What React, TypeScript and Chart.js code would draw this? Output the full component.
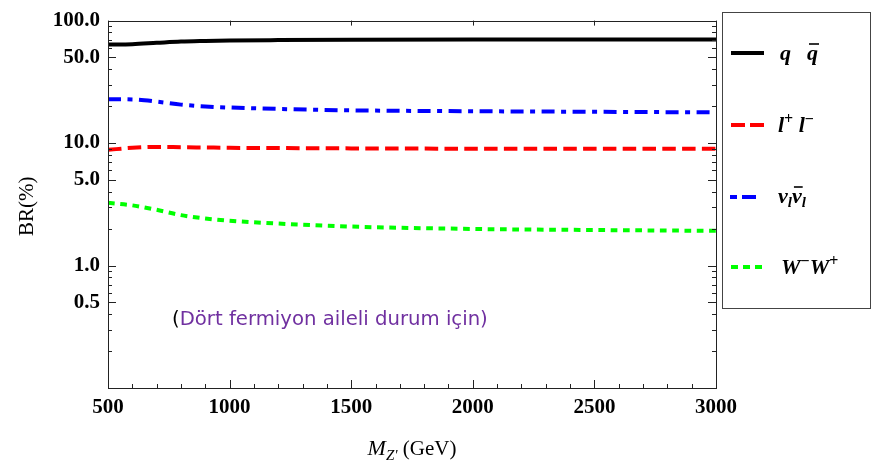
import React, { useEffect, useRef } from "react";
import { Chart, registerables } from "chart.js";

Chart.register(...registerables);

// ---- data ----
const masses = [500, 600, 700, 800, 900, 1000, 1200, 1500, 2000, 2500, 3000];
const quarkPair = [63.8, 64.2, 65.8, 67.4, 68.2, 68.8, 69.3, 69.7, 70.0, 70.1, 70.2];
const leptonPair = [8.8, 9.15, 9.3, 9.25, 9.2, 9.15, 9.1, 9.05, 9.0, 9.0, 9.0];
const neutrinoPair = [22.8, 22.7, 21.8, 20.6, 19.9, 19.5, 19.0, 18.5, 18.2, 18.0, 17.8];
const wPair = [3.25, 3.1, 2.85, 2.58, 2.42, 2.32, 2.2, 2.08, 1.99, 1.95, 1.92];

const xTickValues = [500, 1000, 1500, 2000, 2500, 3000];
const xMinorStep = 100;
const yTickValues = [0.5, 1, 5, 10, 50, 100];
const yMinorMultipliers = [2, 3, 4, 6, 7, 8, 9];
const annotation = "(Dört fermiyon aileli durum için)";
const yTitle = "BR(%)";

const SERIF = "'Liberation Serif', 'Times New Roman', serif";

type Seg = { t: string; font: string; dy?: number; bar?: boolean };

function drawSegs(ctx: CanvasRenderingContext2D, segs: Seg[], x: number, y: number) {
  let cx = x;
  for (const s of segs) {
    ctx.font = s.font;
    const w = ctx.measureText(s.t).width;
    ctx.fillText(s.t, cx, y + (s.dy || 0));
    if (s.bar) {
      ctx.save();
      ctx.lineWidth = 1.6;
      ctx.beginPath();
      ctx.moveTo(cx + 2, y - 16);
      ctx.lineTo(cx + w + 1, y - 16);
      ctx.stroke();
      ctx.restore();
    }
    cx += w;
  }
  return cx - x;
}

const decor = {
  id: "decor",
  afterDraw(chart: any) {
    const { ctx, chartArea: a, scales } = chart;
    const xs = scales.x;
    const ys = scales.y;
    ctx.save();
    ctx.strokeStyle = "#222";
    ctx.fillStyle = "#000";
    ctx.lineWidth = 1;
    ctx.setLineDash([]);
    // frame
    ctx.strokeRect(Math.round(a.left) + 0.5, Math.round(a.top) + 0.5, Math.round(a.right - a.left), Math.round(a.bottom - a.top));

    ctx.beginPath();
    // x ticks
    for (let v = xs.min; v <= xs.max; v += xMinorStep) {
      const px = Math.round(xs.getPixelForValue(v)) + 0.5;
      const major = xTickValues.includes(v);
      const len = major ? 8 : 4;
      ctx.moveTo(px, a.bottom);
      ctx.lineTo(px, a.bottom - len);
      if (major) {
        ctx.moveTo(px, a.top);
        ctx.lineTo(px, a.top + 5);
      }
    }
    // y ticks
    const yVals: { v: number; major: boolean }[] = [];
    for (let d = 0.1; d < 100.0001; d *= 10) {
      const dec = Math.round(d * 10) / 10;
      yVals.push({ v: dec, major: true });
      yVals.push({ v: dec * 5, major: true });
      for (const m of yMinorMultipliers) yVals.push({ v: dec * m, major: false });
    }
    for (const t of yVals) {
      if (t.v < ys.min - 1e-9 || t.v > ys.max + 1e-9) continue;
      const py = Math.round(ys.getPixelForValue(t.v)) + 0.5;
      const len = t.major ? 8 : 4;
      ctx.moveTo(a.left, py);
      ctx.lineTo(a.left + len, py);
      ctx.moveTo(a.right, py);
      ctx.lineTo(a.right - len, py);
    }
    ctx.stroke();

    // y title
    ctx.save();
    ctx.translate(27, (a.top + a.bottom) / 2 + 2);
    ctx.rotate(-Math.PI / 2);
    ctx.font = `21px ${SERIF}`;
    ctx.textAlign = "center";
    ctx.textBaseline = "middle";
    ctx.fillText(yTitle, 0, 0);
    ctx.restore();

    // x title
    ctx.textBaseline = "alphabetic";
    ctx.textAlign = "left";
    const xtSegs: Seg[] = [
      { t: "M", font: `italic 22px ${SERIF}` },
      { t: "Z'", font: `italic 15px ${SERIF}`, dy: 5 },
      { t: " (GeV)", font: `21px ${SERIF}` },
    ];
    let tw = 0;
    for (const s of xtSegs) {
      ctx.font = s.font;
      tw += ctx.measureText(s.t).width;
    }
    drawSegs(ctx, xtSegs, (a.left + a.right) / 2 - tw / 2, 455);

    // annotation
    const annFontName = "'DejaVu Sans', sans-serif";
    ctx.font = `17px ${annFontName}`;
    const w17 = ctx.measureText(annotation).width;
    const fs = (17 * 316) / w17;
    ctx.font = `${fs}px ${annFontName}`;
    ctx.fillStyle = "#000";
    ctx.fillText(annotation[0], 172, 325);
    const pw = ctx.measureText(annotation[0]).width;
    ctx.fillStyle = "#7030A0";
    ctx.fillText(annotation.slice(1), 172 + pw, 325);

    // legend box
    ctx.strokeStyle = "#444";
    ctx.lineWidth = 1;
    ctx.strokeRect(722.5, 12.5, 148, 296);

    const rows = [
      { y: 53, color: "#000000", dash: [] as number[], x1: 731, x2: 764 },
      { y: 125, color: "#ff0000", dash: [14, 5], x1: 731, x2: 764 },
      { y: 197, color: "#0000ff", dash: [7, 5, 14, 100], x1: 730, x2: 757 },
      { y: 267, color: "#00ff00", dash: [7, 5], x1: 731, x2: 762 },
    ];
    for (const r of rows) {
      ctx.save();
      ctx.strokeStyle = r.color;
      ctx.lineWidth = 4;
      ctx.setLineDash(r.dash);
      ctx.beginPath();
      ctx.moveTo(r.x1, r.y);
      ctx.lineTo(r.x2, r.y);
      ctx.stroke();
      ctx.restore();
    }
    ctx.fillStyle = "#000";
    ctx.strokeStyle = "#000";
    const big = `italic bold 22px ${SERIF}`;
    const small = `italic bold 15px ${SERIF}`;
    const supF = `bold 16px ${SERIF}`;
    drawSegs(ctx, [{ t: "q", font: big }], 780, 60);
    drawSegs(ctx, [{ t: "q", font: big, bar: true }], 807, 60);
    drawSegs(
      ctx,
      [
        { t: "l", font: big },
        { t: "+", font: supF, dy: -8 },
        { t: " l", font: big },
        { t: "\u2212", font: supF, dy: -8 },
      ],
      778,
      132
    );
    drawSegs(
      ctx,
      [
        { t: "\u03bd", font: big },
        { t: "l", font: small, dy: 4 },
        { t: "\u03bd", font: big, bar: true },
        { t: "l", font: small, dy: 4 },
      ],
      778,
      203
    );
    drawSegs(
      ctx,
      [
        { t: "W", font: big },
        { t: "\u2212", font: supF, dy: -8 },
        { t: "W", font: big },
        { t: "+", font: supF, dy: -8 },
      ],
      781,
      274
    );
    ctx.restore();
  },
};

const tickFont = { family: SERIF, size: 21, weight: "bold" as const };

export default function App() {
  const ref = useRef<HTMLCanvasElement | null>(null);
  useEffect(() => {
    const canvas = ref.current;
    if (!canvas) return;
    const mk = (vals: number[]) => masses.map((m, i) => ({ x: m, y: vals[i] }));
    const chart = new Chart(canvas, {
      type: "line",
      data: {
        datasets: [
          { label: "q q̄", data: mk(quarkPair), borderColor: "#000000", borderWidth: 4, cubicInterpolationMode: "monotone" },
          { label: "l+l-", data: mk(leptonPair), borderColor: "#ff0000", borderWidth: 4, borderDash: [13.5, 6.3], cubicInterpolationMode: "monotone" },
          { label: "νν̄", data: mk(neutrinoPair), borderColor: "#0000ff", borderWidth: 4, borderDash: [13, 6.5, 5, 6.5], cubicInterpolationMode: "monotone" },
          { label: "W-W+", data: mk(wPair), borderColor: "#00ff00", borderWidth: 4, borderDash: [6.7, 5.6], cubicInterpolationMode: "monotone" },
        ] as any,
      },
      options: {
        responsive: false,
        animation: false,
        layout: { padding: { left: 0, top: 14, right: 161, bottom: 0 } },
        elements: { point: { radius: 0 } },
        plugins: { legend: { display: false }, tooltip: { enabled: false }, title: { display: false } },
        scales: {
          x: {
            type: "linear",
            min: 500,
            max: 3000,
            afterBuildTicks: (s: any) => {
              s.ticks = xTickValues.map((v) => ({ value: v }));
            },
            afterFit: (s: any) => {
              s.height = 76;
            },
            grid: { display: false, drawTicks: false },
            border: { display: false },
            ticks: {
              padding: 7,
              color: "#000",
              font: tickFont,
              maxRotation: 0,
              autoSkip: false,
              callback: (v: any) => String(v),
            },
          },
          y: {
            type: "logarithmic",
            min: 0.1,
            max: 100,
            afterBuildTicks: (s: any) => {
              s.ticks = yTickValues.map((v) => ({ value: v }));
            },
            afterFit: (s: any) => {
              s.width = 108;
            },
            grid: { display: false, drawTicks: false },
            border: { display: false },
            ticks: {
              padding: 8,
              color: "#000",
              font: tickFont,
              autoSkip: false,
              callback: (v: any) => Number(v).toFixed(1),
            },
          },
        },
      } as any,
      plugins: [decor],
    });
    return () => chart.destroy();
  }, []);
  return (
    <div style={{ position: "absolute", left: 0, top: 0, width: 877, height: 464, background: "#fff" }}>
      <canvas ref={ref} width={877} height={464} style={{ display: "block" }} />
    </div>
  );
}
